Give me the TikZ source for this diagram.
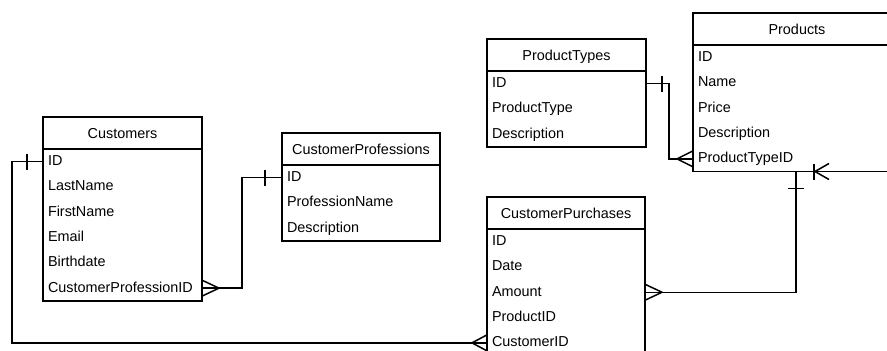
\documentclass[tikz,border=0pt]{standalone}
\usepackage{fontspec}
\setmainfont{Liberation Sans}
\usetikzlibrary{calc}

\newcommand\erfont{\fontsize{14.4}{17}\selectfont}

\tikzset{
  x=1pt, y=-1pt,
  hdr/.style={draw, line width=1.5pt, minimum height=32pt, inner sep=0pt, outer sep=0pt,
    anchor=north west, font=\erfont, text height=10.2pt, text depth=0pt},
  bodybox/.style={draw, line width=1.5pt, inner sep=0pt, outer sep=0pt, anchor=north west},
  fld/.style={anchor=north west, inner xsep=5pt, inner ysep=0pt, outer sep=0pt,
    minimum height=25.3pt, align=left, font=\erfont,
    text height=10.2pt, text depth=2.5pt},
  link/.style={line width=1.5pt, line join=miter},
}

% \erentity{id}{x}{y}{width}{rows}{title}{fields}
\newcommand\erentity[7]{%
  \pgfmathsetmacro\erTW{#4-10}%
  \pgfmathsetmacro\erBH{#5*25.3}%
  \node[hdr, minimum width=#4pt] (#1) at (#2,#3) {#6};
  \node[bodybox, minimum width=#4pt, minimum height=\erBH pt] (#1b) at (#1.south west) {};
  \foreach \f [count=\i] in {#7} {
    \node[fld, text width=\erTW pt] (#1-\i) at ($(#1.south west)+(0,{(\i-1)*25.3})$) {\f};
  }%
}

\begin{document}
\begin{tikzpicture}
\clip (0,0) rectangle (887,351);

% tables
\erentity{cu}{43}{117}{159}{6}{Customers}{ID,LastName,FirstName,Email,Birthdate,CustomerProfessionID}
\erentity{pr}{282}{133}{158}{3}{CustomerProfessions}{ID,ProfessionName,Description}
\erentity{pt}{487}{39}{159}{3}{ProductTypes}{ID,ProductType,Description}
\erentity{p}{693}{13}{208}{5}{Products}{ID,Name,Price,Description,ProductTypeID}
\erentity{cp}{487}{197}{158}{5}{CustomerPurchases}{ID,Date,Amount,ProductID,CustomerID}

% Customers.ID -> CustomerPurchases.CustomerID
\draw[link] (cu-1.west) -- ++(-31,0) |- (cp-5.west);
\draw[link] ($(cu-1.west)+(-16,-8)$) -- ++(0,16);
\draw[link] ($(cp-5.west)+(0,-8)$) -- ($(cp-5.west)+(-15,0)$) -- ($(cp-5.west)+(0,8)$);

% Customers.CustomerProfessionID -> CustomerProfessions.ID
\draw[link] (cu-6.east) -- ++(40,0) |- (pr-1.west);
\draw[link] ($(cu-6.east)+(0,-8)$) -- ($(cu-6.east)+(17,0)$) -- ($(cu-6.east)+(0,8)$);
\draw[link] ($(pr-1.west)+(-17,-8)$) -- ++(0,16);

% ProductTypes.ID -> Products.ProductTypeID
\draw[link] (pt-1.east) -- ++(23,0) |- (p-5.west);
\draw[link] ($(pt-1.east)+(16,-8)$) -- ++(0,16);
\draw[link] ($(p-5.west)+(0,-8)$) -- ($(p-5.west)+(-16,0)$) -- ($(p-5.west)+(0,8)$);

% Products -> CustomerPurchases.Amount
\coordinate (pdrop) at ($(pb.south west)+(103,0)$);
\draw[link] (pdrop) |- (cp-3.east);
\draw[link] ($(pdrop)+(-8,17)$) -- ++(16,0);
\draw[link] ($(cp-3.east)+(0,-8)$) -- ($(cp-3.east)+(17,0)$) -- ($(cp-3.east)+(0,8)$);

% incoming link along the bottom of Products
\coordinate (pin) at ($(pb.south west)+(121,0)$);
\coordinate (pext) at ($(pb.south west)+(210,0)$);
\draw[link] (pext) -- (pin);
\draw[link] ($(pin)+(0,-8)$) -- ++(0,16);
\draw[link] ($(pin)+(15,-8)$) -- ($(pin)+(1,0)$) -- ($(pin)+(15,8)$);
\end{tikzpicture}
\end{document}
